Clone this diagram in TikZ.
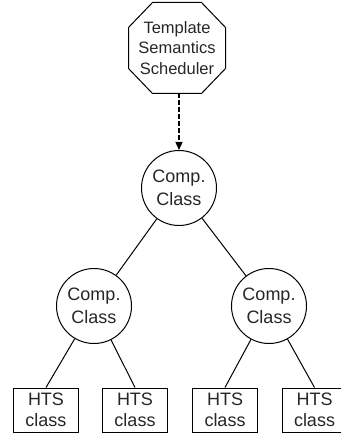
\documentclass[tikz,border=0pt]{standalone}
\usepackage{fontspec}
\setmainfont{Liberation Sans}
\usetikzlibrary{arrows.meta,calc}
\begin{document}
\begin{tikzpicture}[x=1pt,y=1pt,
  line width=1pt,
  every node/.style={text=black!85, align=center, inner sep=0pt},
  octbox/.style={minimum width=96pt, minimum height=90pt,
    font=\fontsize{16.5}{20.5}\selectfont},
  compclass/.style={circle, draw, minimum size=75pt,
    font=\fontsize{18}{22.5}\selectfont},
  htsbox/.style={rectangle, draw, minimum width=65pt, minimum height=44pt,
    font=\fontsize{18}{20.5}\selectfont},
  schedarrow/.style={line width=1.3pt, dash pattern=on 4.5pt off 2.5pt,
    -{Triangle[length=8pt,width=7pt]}}
]
\useasboundingbox (0,0) rectangle (340,-435);

% scheduler (octagon outline drawn around a plain node)
\node[octbox] (oct) at (177,-48) {Template\\Semantics\\Scheduler};
\draw ($(oct.north west)+(24,0)$) -- ($(oct.north east)+(-24,0)$)
  -- ($(oct.north east)+(0,-25)$) -- ($(oct.south east)+(0,25)$)
  -- ($(oct.south east)+(-24,0)$) -- ($(oct.south west)+(24,0)$)
  -- ($(oct.south west)+(0,25)$) -- ($(oct.north west)+(0,-25)$) -- cycle;

% composite classes
\node[compclass] (c0) at (179,-188) {Comp.\\Class};
\node[compclass] (cl) at (94,-306) {Comp.\\Class};
\node[compclass] (cr) at (269,-306) {Comp.\\Class};

% HTS classes
\node[htsbox] (h1) at (46,-410) {HTS\\class};
\node[htsbox] (h2) at (135,-410) {HTS\\class};
\node[htsbox] (h3) at (225,-410) {HTS\\class};
\node[htsbox] (h4) at (314.5,-410) {HTS\\class};

% scheduling link
\draw[schedarrow] (oct.south -| c0.north) -- (c0.north);

% hierarchy
\draw (c0) -- (cl);
\draw (c0) -- (cr);
\draw (cl) -- (h1.north);
\draw (cl) -- (h2.north);
\draw (cr) -- (h3.north);
\draw (cr) -- (h4.north);
\end{tikzpicture}
\end{document}
